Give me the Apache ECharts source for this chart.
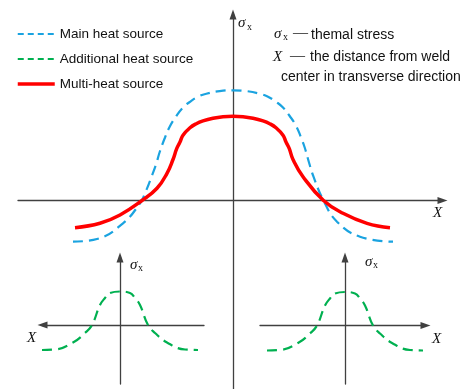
<!DOCTYPE html>
<html>
<head>
<meta charset="utf-8">
<script src="https://cdn.jsdelivr.net/npm/echarts@6/dist/echarts.min.js"></script>
<style>
html,body{margin:0;padding:0;background:#fff;}
#chart{width:465px;height:389px;}
</style>
</head>
<body>
<div id="chart"></div>
<script>
// curves (x: distance from weld centre, y: stress, arbitrary units)
var mainX  = [-16, -13.6, -11, -9.3, -8.8, -8.1, -7.65, -7.33, -6.8, -6.33, -5.67, -5.0, -4.33, -3.5, -2.67, -1.33, 0,
              1.33, 2.67, 3.5, 4.33, 5.0, 5.67, 6.33, 6.8, 7.17, 7.6, 8.05, 9.05, 10.4, 12.7, 16];
var mainY  = [-4.12, -3.85, -2.28, -0.28, 0.72, 2.5, 3.75, 4.85, 6.3, 7.38, 8.45, 9.3, 9.85, 10.38, 10.68, 10.94, 11.02,
              10.94, 10.68, 10.38, 9.85, 9.3, 8.45, 7.42, 6.3, 5.3, 3.8, 2.38, 0, -2.12, -3.62, -4.12];
var multiX = [-15.8, -13.3, -11.3, -9.1, -7.6, -6.6, -6.0, -5.63, -5.3, -5.0, -4.3, -3.67, -3.0, -2.0, -1.0, 0,
              1.0, 2.0, 3.0, 3.67, 4.3, 5.0, 5.3, 5.63, 6.0, 7.0, 9.05, 11.0, 13.4, 15.7];
var multiY = [-2.72, -2.28, -1.45, 0, 1.22, 2.72, 4.1, 5.18, 5.85, 6.52, 7.27, 7.68, 7.96, 8.22, 8.37, 8.42,
              8.37, 8.22, 7.96, 7.68, 7.27, 6.52, 5.85, 5.18, 4.1, 2.38, 0, -1.28, -2.28, -2.72];
var addX   = [-7.8, -6.5, -4.7, -3.5, -2.8, -2.0, -1.5, -1.0, 0, 1.0, 1.5, 2.0, 2.8, 3.5, 4.7, 6.5, 7.8];
var addY   = [-2.5, -2.45, -1.75, -0.8, 0, 2.0, 2.7, 3.2, 3.35, 3.2, 2.7, 2.0, 0, -0.8, -1.75, -2.45, -2.5];

var seriesNames = ['Main heat source', 'Additional heat source', 'Multi-heat source'];

var AXIS_COLOR = '#404040';
var BLUE = '#1aa3e0', GREEN = '#00b050', RED = '#ff0000';

function pairs(xs, ys){
	var out = [];
	for (var i = 0; i < xs.length; i++) out.push([xs[i], ys[i]]);
	return out;
}

// plain axis: only the line with an arrow
function axis(gridIndex, min, max, arrows){
	return {
		type: 'value',
		gridIndex: gridIndex,
		min: min,
		max: max,
		axisLine: {
			onZero: true,
			symbol: arrows,
			symbolSize: [7, 10],
			lineStyle: {color: AXIS_COLOR, width: 1.3}
		},
		axisTick: {show: false},
		axisLabel: {show: false},
		splitLine: {show: false}
	};
}

function txt(x, y, s, font, align){
	return {
		type: 'text', x: x, y: y, silent: true,
		style: {text: s, font: font, fill: '#111', textAlign: align || 'left', textVerticalAlign: 'middle'}
	};
}

var SIG = 'italic 15px "Liberation Serif", "DejaVu Serif", serif';
var SUB = '10px "Liberation Serif", "DejaVu Serif", serif';
var DASH = '15px "Liberation Serif", serif';
var SANS = '14px "Liberation Sans", Arial, sans-serif';

var option = {
	animation: false,
	backgroundColor: '#fff',
	grid: [
		{left: 18, top: 14.5, width: 424.5, bottom: 0, outerBoundsMode: 'none'},
		{left: 42.5, top: 257.5, width: 161.5, height: 126.5, outerBoundsMode: 'none'},
		{left: 260, top: 257.5, width: 165.5, height: 126.5, outerBoundsMode: 'none'}
	],
	xAxis: [
		axis(0, -21.5, 20.95, ['none', 'triangle']),
		axis(1, -7.75, 8.4, ['triangle', 'none']),
		axis(2, -8.5, 8.05, ['none', 'triangle'])
	],
	yAxis: [
		axis(0, -18.85, 18.6, ['none', 'triangle']),
		axis(1, -5.9, 6.75, ['none', 'triangle']),
		axis(2, -5.85, 6.8, ['none', 'triangle'])
	],
	legend: {
		orient: 'vertical',
		left: 16,
		top: 27,
		padding: 0,
		itemWidth: 37,
		itemHeight: 14,
		itemGap: 11,
		itemStyle: {opacity: 0},
		textStyle: {fontSize: 13.5, color: '#111', fontFamily: '"Liberation Sans", Arial, sans-serif'},
		data: [
			{name: seriesNames[0], lineStyle: {type: [6, 4], width: 2}},
			{name: seriesNames[1], lineStyle: {type: [6, 4], width: 2}},
			{name: seriesNames[2], lineStyle: {width: 3.5}}
		]
	},
	series: [
		{
			name: seriesNames[0], type: 'line', xAxisIndex: 0, yAxisIndex: 0,
			data: pairs(mainX, mainY), smooth: 0.45, symbol: 'none', clip: false,
			lineStyle: {color: BLUE, width: 2.2, type: [10, 6]}, itemStyle: {color: BLUE}
		},
		{
			name: seriesNames[2], type: 'line', xAxisIndex: 0, yAxisIndex: 0,
			data: pairs(multiX, multiY), smooth: 0.45, symbol: 'none', clip: false,
			lineStyle: {color: RED, width: 3.5}, itemStyle: {color: RED}
		},
		{
			name: seriesNames[1], type: 'line', xAxisIndex: 1, yAxisIndex: 1,
			data: pairs(addX, addY), smooth: 0.45, symbol: 'none', clip: false,
			lineStyle: {color: GREEN, width: 2.2, type: [10, 6]}, itemStyle: {color: GREEN}
		},
		{
			name: seriesNames[1], type: 'line', xAxisIndex: 2, yAxisIndex: 2,
			data: pairs(addX, addY), smooth: 0.45, symbol: 'none', clip: false,
			lineStyle: {color: GREEN, width: 2.2, type: [10, 6]}, itemStyle: {color: GREEN}
		}
	],
	graphic: [
		// axis names
		txt(238, 23, 'σ', SIG), txt(247, 27, 'x', SUB),
		txt(433, 213, 'X', SIG),
		txt(130, 265, 'σ', SIG), txt(138, 268, 'x', SUB),
		txt(27, 338, 'X', SIG),
		txt(365, 262, 'σ', SIG), txt(373, 265, 'x', SUB),
		txt(432, 339, 'X', SIG),
		// notes
		txt(274, 34, 'σ', SIG), txt(283, 37, 'x', SUB),
		txt(293, 33, '—', DASH),
		txt(311, 35, 'themal stress', SANS),
		txt(273, 57, 'X', SIG),
		txt(290, 56, '—', DASH),
		txt(310, 57, 'the distance from weld', SANS),
		txt(281, 77, 'center in transverse direction', SANS)
	]
};

var chart = echarts.init(document.getElementById('chart'));
chart.setOption(option);
window.onresize = chart.resize;
</script>
</body>
</html>
